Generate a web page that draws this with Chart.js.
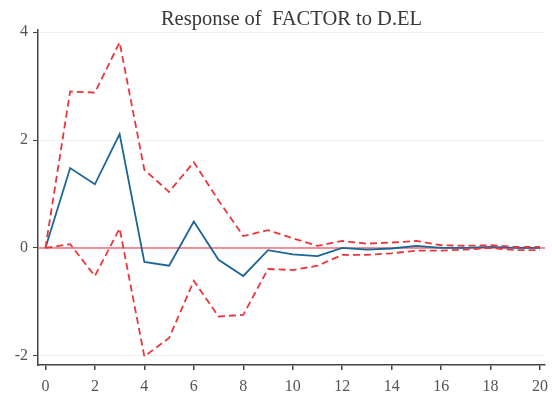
<!DOCTYPE html>
<html>
<head>
<meta charset="utf-8">
<script src="https://cdn.jsdelivr.net/npm/chart.js@4/dist/chart.umd.min.js"></script>
<style>
html,body{margin:0;padding:0;background:#fff;}
#wrap{width:552px;height:396px;}
</style>
</head>
<body>
<div id="wrap"><canvas id="c" width="552" height="396"></canvas></div>
<script>
const periods = [0,1,2,3,4,5,6,7,8,9,10,11,12,13,14,15,16,17,18,19,20];
const response = [0,1.48,1.18,2.11,-0.26,-0.33,0.49,-0.22,-0.52,-0.04,-0.12,-0.15,0.0,-0.03,-0.01,0.04,0.0,0.0,0.02,0.0,0.0];
const upperBand = [0,2.90,2.88,3.81,1.45,1.04,1.59,0.88,0.22,0.33,0.18,0.04,0.13,0.08,0.10,0.13,0.05,0.04,0.05,0.02,0.02];
const lowerBand = [0,0.07,-0.52,0.36,-2.01,-1.67,-0.61,-1.27,-1.24,-0.39,-0.41,-0.33,-0.13,-0.13,-0.10,-0.05,-0.05,-0.03,0.0,-0.04,-0.04];
const xTicks = [0,2,4,6,8,10,12,14,16,18,20];
const yTicks = [-2,0,2,4];
const titleText = 'Response of  FACTOR to D.EL';

const toXY = arr => periods.map((p,i)=>({x:p,y:arr[i]}));
const serif = "'Liberation Serif','DejaVu Serif',serif";

const zeroLine = {
  id:'zeroLine',
  beforeDatasetsDraw(chart){
    const {ctx, chartArea:a, scales:{y}} = chart;
    const py = y.getPixelForValue(0);
    ctx.save();
    ctx.strokeStyle='rgba(238,110,120,0.75)';
    ctx.lineWidth=2;
    ctx.beginPath();ctx.moveTo(a.left,py);ctx.lineTo(a.right,py);ctx.stroke();
    ctx.restore();
  }
};

const titlePlugin = {
  id:'titleText',
  afterDraw(chart){
    const {ctx, chartArea:a} = chart;
    ctx.save();
    ctx.fillStyle='#383838';
    ctx.font="20.5px "+serif;
    ctx.textAlign='center';
    ctx.textBaseline='alphabetic';
    ctx.fillText(titleText,(a.left+a.right)/2,25);
    ctx.restore();
  }
};

new Chart(document.getElementById('c'),{
  type:'line',
  data:{datasets:[
    {data:toXY(upperBand),borderColor:'#e8383d',borderWidth:1.8,borderDash:[7,4],pointRadius:0,fill:false,tension:0},
    {data:toXY(lowerBand),borderColor:'#e8383d',borderWidth:1.8,borderDash:[7,4],pointRadius:0,fill:false,tension:0},
    {data:toXY(response),borderColor:'#1d6596',borderWidth:1.8,pointRadius:0,fill:false,tension:0}
  ]},
  plugins:[zeroLine,titlePlugin],
  options:{
    responsive:false,animation:false,
    layout:{padding:{left:0,right:7,top:30,bottom:0}},
    plugins:{legend:{display:false},tooltip:{enabled:false},title:{display:false}},
    scales:{
      x:{type:'linear',min:-0.3,max:20.2,
        afterBuildTicks(s){s.ticks=xTicks.map(v=>({value:v}));},
        afterFit(s){s.height=31;s.paddingLeft=0;s.paddingRight=0;},
        border:{display:true,color:'#444',width:1.5},
        grid:{drawOnChartArea:false,color:'#444',tickColor:'#444',tickLength:5,lineWidth:1.5},
        ticks:{color:'#555',font:{family:serif,size:16},padding:7,maxRotation:0,autoSkip:false}
      },
      y:{type:'linear',min:-2.17,max:4.04,
        afterBuildTicks(s){s.ticks=yTicks.map(v=>({value:v}));},
        afterFit(s){s.width=38;s.paddingTop=0;s.paddingBottom=0;},
        border:{display:true,color:'#444',width:1.5},
        grid:{drawOnChartArea:true,color:'#f0f0f0',tickColor:'#444',tickLength:5,lineWidth:1},
        ticks:{color:'#555',font:{family:serif,size:16},padding:5}
      }
    }
  }
});
</script>
</body>
</html>
